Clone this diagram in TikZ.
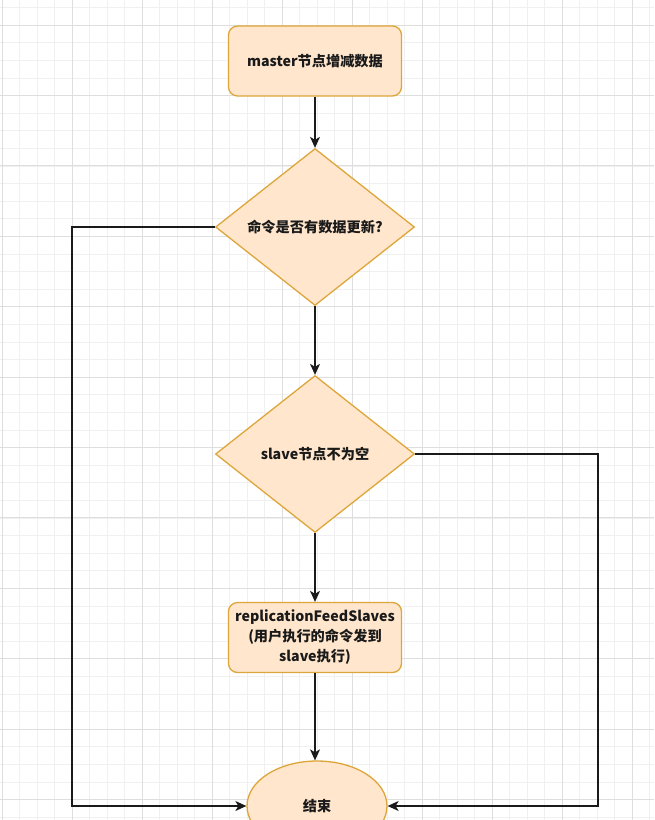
\documentclass[tikz,border=0pt]{standalone}
\usepackage{fontspec}
\setmainfont{Noto Sans CJK SC}
\usetikzlibrary{shapes.geometric,arrows.meta}
\definecolor{fillc}{HTML}{FFE6CC}
\definecolor{strokec}{HTML}{DDA63A}
\definecolor{linec}{HTML}{1A1A1A}
\definecolor{gridminor}{HTML}{F0F0F0}
\definecolor{gridmajor}{HTML}{DEDEDE}
\tikzset{
  lbl/.style={font=\fontsize{14.2pt}{20pt}\selectfont\bfseries, text=linec},
  procbox/.style={lbl, draw=strokec, fill=fillc, line width=1.3pt, rounded corners=9pt,
    minimum width=173pt, minimum height=70pt, align=center, inner sep=2pt},
  decbox/.style={lbl, diamond, draw=strokec, fill=fillc, line width=1.3pt, aspect=1.27,
    minimum width=199pt, minimum height=157pt, inner sep=0pt},
  endbox/.style={lbl, ellipse, draw=strokec, fill=fillc, line width=1.3pt,
    minimum width=140pt, minimum height=90pt, inner sep=0pt},
  arr/.style={draw=linec, line width=1.1pt, -{Stealth[length=11pt,width=10pt,inset=3pt]}}
}
\begin{document}
\begin{tikzpicture}[x=1pt,y=-1pt]
\useasboundingbox (0,0) rectangle (654,820);
\clip (0,0) rectangle (654,820);
\fill[white] (0,0) rectangle (654,820);
% grid
\foreach \i in {0,...,38} {
  \draw[gridminor, line width=0.8pt] ({2+17.5*\i},0) -- ({2+17.5*\i},820);
}
\foreach \i in {0,...,47} {
  \draw[gridminor, line width=0.8pt] (0,{7.5+17.6*\i}) -- (654,{7.5+17.6*\i});
}
\foreach \i in {0,...,9} {
  \draw[gridmajor, line width=0.9pt] ({2+70*\i},0) -- ({2+70*\i},820);
}
\foreach \i in {0,...,11} {
  \draw[gridmajor, line width=0.9pt] (0,{25+70.4*\i}) -- (654,{25+70.4*\i});
}
% nodes
\node[procbox] (start) at (315,61) {master节点增减数据};
\node[decbox] (d1) at (315,227) {命令是否有数据更新?};
\node[decbox] (d2) at (315,454) {slave节点不为空};
\node[procbox] (rep) at (315,637.5) {replicationFeedSlaves\\ (用户执行的命令发到\\slave执行)};
\node[endbox] (end) at (317,806) {结束};
\coordinate (lc) at (72,227);
\coordinate (rc) at (598,454);
% connectors
\draw[arr] (start) -- (d1);
\draw[arr] (d1) -- (d2);
\draw[arr] (d2) -- (rep);
\draw[arr] (rep.south) -- (rep.south |- end.north);
\draw[arr] (d1.west) -- (lc) |- (end.west);
\draw[arr] (d2.east) -- (rc) |- (end.east);
\end{tikzpicture}
\end{document}
